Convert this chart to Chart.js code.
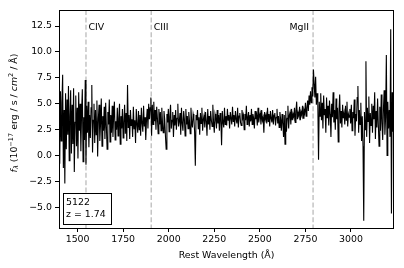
<!DOCTYPE html>
<html>
<head>
<meta charset="utf-8">
<script src="https://cdn.jsdelivr.net/npm/chart.js@4"></script>
<style>
  html, body { margin: 0; padding: 0; background: #fff; }
  canvas { display: block; }
</style>
</head>
<body>
<canvas id="spectrumChart" width="404" height="268"></canvas>
<script>
// Wavelength grid of the spectrum (rest frame, Angstrom)
const waveStart = 1398;
const waveStep = 4;

// Flux values (10^-17 erg/s/cm2/A), one every 4 A
const flux = [
  // 1398 - 1554
  3.5, -0.8, 6.2, 1.4, 5.1, 7.8, -1.2, 4.4, -2.7, 6.0,
  0.6, 5.4, 2.0, 6.7, -0.5, 3.8, 6.3, 0.2, 4.9, 1.1,
  6.5, -1.6, 3.2, 5.8, 0.9, 4.6, -0.3, 6.1, 2.4, 5.0,
  0.4, 4.2, 6.4, -0.6, 3.7, 1.5, 7.3, -0.9, 4.8, 2.2,
  // 1558 - 1874
  5.2, 0.8, 3.9, 1.7, 4.6, 6.8, 0.3, 3.4, 5.0, 1.2,
  4.4, 2.0, 5.3, -0.1, 3.6, 4.9, 1.4, 3.1, 5.5, 0.9,
  3.8, 2.4, 4.7, 1.6, 5.1, 2.8, 0.6, 4.2, 3.0, 5.4,
  1.3, 3.9, 2.2, 4.8, 1.8, 4.0, 5.2, 1.5, 3.3, 2.5,
  4.6, 1.9, 3.6, 5.0, 1.1, 3.8, 2.6, 4.5, 1.7, 3.2,
  4.9, 2.1, 4.1, 1.4, 6.8, 2.7, 3.9, 1.6, 4.4, 2.9,
  3.5, 1.8, 4.7, 2.6, 3.4, 1.2, 4.5, 3.0, 2.2, 4.3,
  2.5, 3.9, 1.9, 4.6, 3.1, 2.3, 4.8, 2.8, 3.7, 1.5,
  // 1878 - 2314 (CIII] bump)
  3.4, 4.5, 2.6, 5.0, 3.5, 4.6, 5.6, 1.9, 4.9, 3.0,
  5.2, 3.3, 4.4, 2.5, 4.7, 3.6, 2.1, 4.5, 3.0, 4.2,
  2.4, 4.6, 3.1, 2.2, 4.3, 3.5, 1.9, 0.6, 4.0, 3.2,
  4.5, 2.3, 3.8, 4.9, 2.6, 3.4, 4.2, 1.8, 3.9, 2.9,
  4.4, 2.5, 3.6, 5.0, 2.8, 3.3, 4.1, 2.0, 4.6, 3.1,
  2.4, 4.3, 3.5, 1.9, 4.5, 3.0, 3.8, 2.6, 4.2, 3.3,
  2.1, 4.6, 3.2, 2.7, 4.0, 3.6, 2.3, -1.0, 3.9, 3.4,
  4.4, 2.6, 3.7, 2.0, 4.1, 3.1, 4.6, 2.4, 3.5, 3.9,
  2.7, 4.2, 3.3, 1.9, 4.5, 3.0, 3.8, 2.5, 4.3, 3.4,
  2.8, 4.9, 3.2, 2.2, 4.0, 3.6, 2.6, 4.4, 3.1, 3.9,
  2.4, 4.1, 3.5, 1.0, 4.3, 3.2, 2.7, 4.6, 3.0, 3.8,
  // 2318 - 2754
  2.9, 4.5, 3.4, 3.9, 2.6, 4.2, 3.6, 3.0, 4.7, 3.3,
  3.9, 2.8, 4.3, 3.5, 3.1, 4.6, 2.7, 3.8, 4.1, 3.2,
  2.9, 4.4, 3.6, 3.9, 2.5, 4.0, 3.4, 4.8, 3.0, 3.7,
  4.2, 2.8, 3.9, 3.3, 4.5, 3.0, 4.0, 3.6, 2.6, 4.3,
  3.5, 3.9, 2.9, 4.6, 3.2, 3.8, 4.1, 3.0, 4.4, 3.4,
  3.7, 2.2, 4.2, 3.5, 3.9, 3.1, 4.6, 3.3, 4.0, 2.8,
  4.3, 3.6, 3.2, 4.4, 3.0, 3.9, 4.1, 2.9, 3.7, 4.5,
  3.1, 3.8, 2.7, 4.2, 3.5, 2.4, 4.0, 3.2, 1.8, 3.9,
  1.1, 4.3, 2.3, 3.6, 4.8, 2.6, 3.9, 4.2, 3.0, 4.5,
  3.4, 4.0, 3.7, 4.6, 3.2, 4.3, 5.2, 3.5, 4.1, 3.8,
  4.7, 3.4, 4.2, 3.9, 4.8, 3.6, 4.4, 4.1, 5.1, 3.8,
  // 2758 - 2834 (MgII)
  4.6, 5.3, 4.3, 5.8, 4.9, 6.2, 5.1, 6.6, 5.7, 8.3,
  6.9, 5.6, 7.6, 4.9, 6.0, 5.0, -0.4, 5.2, 3.8, 6.0,
  // 2838 - 3234
  3.4, 5.1, 2.6, 5.8, 3.9, 4.5, 2.2, 5.6, 3.6, 4.8,
  2.9, 5.3, 4.0, 1.8, 5.0, 3.7, 6.1, 3.2, 4.4, 2.5,
  5.5, 3.5, 4.6, 1.3, 4.2, 5.9, 3.1, 4.3, 2.7, 4.9,
  3.6, 4.1, 3.0, 4.8, 3.4, 5.2, 2.8, 4.0, 3.7, 4.5,
  3.1, 4.9, 2.4, 4.2, 3.6, 5.4, 1.9, 4.0, 3.3, 5.6,
  6.7, 2.2, 4.4, 3.0, 5.1, 1.4, 3.8, 0.9, -6.3, 4.2,
  2.5, 9.1, 1.8, 4.6, 3.3, 5.7, 1.2, 4.1, 2.9, 5.0,
  2.2, 4.8, 3.5, 6.1, 1.6, 4.3, 2.7, 5.5, 3.0, 0.9,
  4.7, 2.4, 5.9, 3.2, 1.5, 4.5, 6.3, 2.0, 3.7, 9.7,
  0.0, 5.2, 2.6, 4.4, 1.8, 12.2, -5.6, 6.1, 2.3, 4.9
];

// Emission lines marked on the plot
const lineWaves = [1546, 1904, 2792];
const lineNames = ["CIV", "CIII", "MgII"];

const xTicks = [1500, 1750, 2000, 2250, 2500, 2750, 3000];
const yTicks = [-5, -2.5, 0, 2.5, 5, 7.5, 10, 12.5];

const objectId = "5122";
const redshift = "1.74";

const FONT = '"DejaVu Sans", sans-serif';
const FS = 9.4;

const points = flux.map((f, i) => ({ x: waveStart + i * waveStep, y: f }));

// dashed line markers, drawn under the spectrum
const linesPlugin = {
  id: "lines",
  beforeDatasetsDraw(chart) {
    const { ctx, chartArea, scales } = chart;
    ctx.save();
    ctx.strokeStyle = "#c0c0c0";
    ctx.lineWidth = 1.4;
    ctx.setLineDash([5, 2.4]);
    lineWaves.forEach((w) => {
      const px = scales.x.getPixelForValue(w);
      ctx.beginPath();
      ctx.moveTo(px, chartArea.top);
      ctx.lineTo(px, chartArea.bottom);
      ctx.stroke();
    });
    ctx.restore();
  },
  afterDraw(chart) {
    const { ctx, chartArea, scales } = chart;
    ctx.save();
    // axes frame
    ctx.strokeStyle = "#000";
    ctx.lineWidth = 1;
    ctx.strokeRect(
      Math.round(chartArea.left) + 0.5,
      Math.round(chartArea.top) + 0.5,
      Math.round(chartArea.right - chartArea.left) - 1,
      Math.round(chartArea.bottom - chartArea.top)
    );

    // line names
    ctx.fillStyle = "#000";
    ctx.font = FS + "px " + FONT;
    ctx.textBaseline = "alphabetic";
    const ty = scales.y.getPixelForValue(12.1);
    lineWaves.forEach((w, i) => {
      const px = scales.x.getPixelForValue(w);
      if (i === lineWaves.length - 1) {
        ctx.textAlign = "right";
        ctx.fillText(lineNames[i], px - 4, ty);
      } else {
        ctx.textAlign = "left";
        ctx.fillText(lineNames[i], px + 2.5, ty);
      }
    });

    // info box
    ctx.fillStyle = "#fff";
    ctx.fillRect(63.5, 193.5, 48, 31);
    ctx.strokeRect(63.5, 193.5, 48, 31);
    ctx.fillStyle = "#000";
    ctx.textAlign = "left";
    ctx.fillText(objectId, 66, 205);
    ctx.fillText("z = " + redshift, 66, 216.5);

    // x axis title
    ctx.textAlign = "center";
    ctx.textBaseline = "middle";
    ctx.fillText("Rest Wavelength (\u00c5)", (chartArea.left + chartArea.right) / 2, 256);

    // y axis title with sub/superscripts
    const big = FS + "px " + FONT;
    const bigIt = "italic " + FS + "px " + FONT;
    const small = (FS * 0.7).toFixed(2) + "px " + FONT;
    const smallIt = "italic " + (FS * 0.7).toFixed(2) + "px " + FONT;
    const segs = [
      { t: "f", f: bigIt, dy: 0 },
      { t: "\u03bb", f: smallIt, dy: 1.8 },
      { t: " (10", f: big, dy: 0 },
      { t: "\u221217", f: small, dy: -3.6 },
      { t: " erg / s / ", f: big, dy: 0 },
      { t: "cm", f: bigIt, dy: 0 },
      { t: "2", f: small, dy: -3.6 },
      { t: " / \u00c5)", f: big, dy: 0 }
    ];
    let total = 0;
    segs.forEach((s) => { ctx.font = s.f; s.w = ctx.measureText(s.t).width; total += s.w; });
    ctx.translate(16.5, 113);
    ctx.rotate(-Math.PI / 2);
    ctx.textAlign = "left";
    ctx.textBaseline = "alphabetic";
    let cx = -total / 2;
    segs.forEach((s) => {
      ctx.font = s.f;
      ctx.fillText(s.t, cx, s.dy);
      cx += s.w;
    });
    ctx.restore();
  }
};

new Chart(document.getElementById("spectrumChart"), {
  type: "line",
  data: {
    datasets: [
      {
        data: points,
        borderColor: "#000",
        borderWidth: 1.1,
        pointRadius: 0,
        tension: 0,
        fill: false
      }
    ]
  },
  options: {
    responsive: false,
    animation: false,
    devicePixelRatio: 1,
    layout: { padding: { top: 10, right: 10, left: 0, bottom: 0 } },
    plugins: {
      legend: { display: false },
      tooltip: { enabled: false }
    },
    scales: {
      x: {
        type: "linear",
        min: 1398,
        max: 3236,
        afterBuildTicks: (scale) => { scale.ticks = xTicks.map((v) => ({ value: v })); },
        afterFit: (scale) => { scale.height = 40; },
        border: { display: false },
        grid: { drawOnChartArea: false, drawTicks: true, tickLength: 4, color: "#000" },
        ticks: {
          padding: 2,
          color: "#000",
          font: { family: FONT, size: FS },
          maxRotation: 0,
          callback: (v) => String(v)
        }
      },
      y: {
        type: "linear",
        min: -7.0,
        max: 14.05,
        afterBuildTicks: (scale) => { scale.ticks = yTicks.map((v) => ({ value: v })); },
        afterFit: (scale) => { scale.width = 59; },
        border: { display: false },
        grid: { drawOnChartArea: false, drawTicks: true, tickLength: 4, color: "#000" },
        ticks: {
          padding: 3,
          color: "#000",
          font: { family: FONT, size: FS },
          callback: (v) => v.toFixed(1).replace("-", "\u2212")
        }
      }
    }
  },
  plugins: [linesPlugin]
});
</script>
</body>
</html>
